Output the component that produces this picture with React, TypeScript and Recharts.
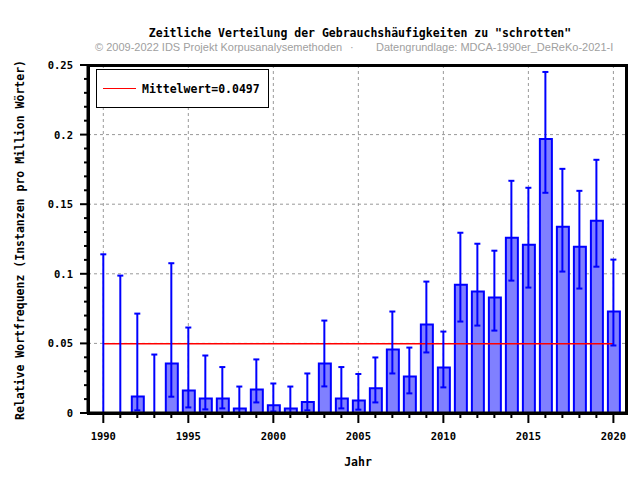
import { ComposedChart, Bar, Line, ErrorBar, XAxis, YAxis, CartesianGrid } from 'recharts';

// Jahre
const years = [
  1990, 1991, 1992, 1993, 1994, 1995, 1996, 1997, 1998, 1999, 2000, 2001, 2002, 2003, 2004, 2005,
  2006, 2007, 2008, 2009, 2010, 2011, 2012, 2013, 2014, 2015, 2016, 2017, 2018, 2019, 2020,
];

// Relative Wortfrequenz pro Jahr
const freq = [
  0, 0, 0.0119, 0, 0.0356, 0.0162, 0.0105, 0.0105, 0.0033, 0.0169, 0.0055, 0.0033, 0.0079, 0.0356,
  0.0105, 0.009, 0.0177, 0.0456, 0.0263, 0.0636, 0.0327, 0.0922, 0.0872, 0.0829, 0.1259, 0.1209,
  0.1969, 0.1338, 0.1195, 0.1381, 0.0729,
];

// Konfidenzintervall unten / oben
const lower = [
  0, 0, 0.0019, 0, 0.0117, 0.004, 0.0026, 0.0033, 0, 0.0076, 0.0011, 0, 0.0019, 0.0191, 0.0033,
  0.0024, 0.0076, 0.0284, 0.0141, 0.0435, 0.0184, 0.0657, 0.0628, 0.0592, 0.0951, 0.0901, 0.1582,
  0.1016, 0.0894, 0.1051, 0.0485,
];
const upper = [
  0.114, 0.0987, 0.0714, 0.042, 0.1076, 0.0614, 0.0413, 0.033, 0.019, 0.0385, 0.0212, 0.019, 0.0284,
  0.0664, 0.033, 0.028, 0.0399, 0.0729, 0.047, 0.0944, 0.0585, 0.1295, 0.1216, 0.1166, 0.1668,
  0.1618, 0.245, 0.1754, 0.1596, 0.1819, 0.1102,
];

const meanValue = 0.0497;

const majorYears = [1990, 1995, 2000, 2005, 2010, 2015, 2020];
const yTicks = [
  0, 0.01, 0.02, 0.03, 0.04, 0.05, 0.06, 0.07, 0.08, 0.09, 0.1, 0.11, 0.12, 0.13, 0.14, 0.15, 0.16,
  0.17, 0.18, 0.19, 0.2, 0.21, 0.22, 0.23, 0.24, 0.25,
];
const yMajor = [0, 0.05, 0.1, 0.15, 0.2, 0.25];

const data = years.map((year, i) => ({
  year,
  freq: freq[i],
  err: [freq[i] - lower[i], upper[i] - freq[i]],
  mean: meanValue,
}));

const mono = '"DejaVu Sans Mono", monospace';

const isMajorY = (v: number) => yMajor.some((m) => Math.abs(m - v) < 1e-9);

function XTick(props: any) {
  const { x, y, payload } = props;
  const major = majorYears.includes(payload.value);
  return (
    <g>
      <line x1={x} x2={x} y1={y} y2={y + (major ? 10 : 5)} stroke="#000" strokeWidth={2} />
      {major && (
        <text x={x} y={y + 27} textAnchor="middle" fontFamily={mono} fontWeight="bold" fontSize={10.5} fill="#000">
          {payload.value}
        </text>
      )}
    </g>
  );
}

function YTick(props: any) {
  const { x, y, payload } = props;
  const major = isMajorY(payload.value);
  return (
    <g>
      <line x1={x} x2={x - (major ? 8 : 4)} y1={y} y2={y} stroke="#000" strokeWidth={2} />
      {major && (
        <text x={x - 15} y={y + 4} textAnchor="end" fontFamily={mono} fontWeight="bold" fontSize={10.5} fill="#000">
          {String(payload.value)}
        </text>
      )}
    </g>
  );
}

export default function App() {
  return (
    <div style={{ position: 'absolute', left: 0, top: 0, width: 640, height: 480, background: '#fff' }}>
      <ComposedChart
        width={640}
        height={480}
        data={data}
        margin={{ top: 65, right: 13, bottom: 0, left: 0 }}
      >
        <CartesianGrid
          stroke="#999"
          strokeDasharray="3 3"
          horizontalValues={yMajor}
          verticalValues={majorYears}
        />
        <XAxis
          dataKey="year"
          type="number"
          domain={[1989.1, 2020.8]}
          ticks={years}
          interval={0}
          height={67}
          tickSize={0}
          tickMargin={0}
          tickLine={false}
          tick={XTick}
          axisLine={{ stroke: '#000', strokeWidth: 3 }}
          allowDataOverflow
        />
        <YAxis
          type="number"
          domain={[0, 0.25]}
          ticks={yTicks}
          interval={0}
          width={88}
          tickSize={0}
          tickMargin={0}
          tickLine={false}
          tick={YTick}
          axisLine={{ stroke: '#000', strokeWidth: 3 }}
          allowDataOverflow
        />
        <Line
          dataKey="mean"
          type="linear"
          stroke="#ff0000"
          strokeWidth={1.5}
          dot={false}
          isAnimationActive={false}
        />
        <Bar
          dataKey="freq"
          barSize={12}
          fill="#8080ff"
          stroke="#0000ff"
          strokeWidth={2}
          isAnimationActive={false}
        />
        {/* unsichtbare Linie nur als Träger der Fehlerbalken */}
        <Line
          dataKey="freq"
          type="linear"
          stroke="none"
          dot={false}
          activeDot={false}
          isAnimationActive={false}
        >
          <ErrorBar dataKey="err" direction="y" width={3} stroke="#0000ff" strokeWidth={2} isAnimationActive={false} />
        </Line>
      </ComposedChart>

      {/* Rahmen um die Zeichenfläche */}
      <div
        style={{
          position: 'absolute',
          left: 87,
          top: 64,
          width: 541,
          height: 351,
          border: '3px solid #000',
          boxSizing: 'border-box',
          pointerEvents: 'none',
        }}
      />

      {/* Titel */}
      <div
        style={{
          position: 'absolute',
          left: 0,
          width: 720,
          top: 26,
          textAlign: 'center',
          fontFamily: mono,
          fontWeight: 'bold',
          fontSize: 11.5,
          lineHeight: '14px',
          color: '#000',
          whiteSpace: 'nowrap',
        }}
      >
        Zeitliche Verteilung der Gebrauchshäufigkeiten zu "schrotten"
      </div>
      <div
        style={{
          position: 'absolute',
          left: 95,
          top: 40,
          fontFamily: '"Liberation Sans", Arial, sans-serif',
          fontSize: 11,
          lineHeight: '14px',
          color: '#a0a0a0',
          whiteSpace: 'nowrap',
        }}
      >
        © 2009-2022 IDS Projekt Korpusanalysemethoden
      </div>
      <div
        style={{
          position: 'absolute',
          left: 350,
          top: 40,
          fontFamily: '"Liberation Sans", Arial, sans-serif',
          fontSize: 11,
          lineHeight: '14px',
          color: '#a0a0a0',
        }}
      >
        ·
      </div>
      <div
        style={{
          position: 'absolute',
          left: 376,
          top: 40,
          fontFamily: '"Liberation Sans", Arial, sans-serif',
          fontSize: 11,
          lineHeight: '14px',
          color: '#a0a0a0',
          whiteSpace: 'nowrap',
        }}
      >
        Datengrundlage: MDCA-1990er_DeReKo-2021-I
      </div>

      {/* Legende */}
      <div
        style={{
          position: 'absolute',
          left: 96,
          top: 69,
          width: 173,
          height: 39,
          border: '1px solid #000',
          boxSizing: 'border-box',
          background: '#fff',
        }}
      >
        <div style={{ position: 'absolute', left: 6, top: 18, width: 33, height: 1, background: '#ff0000' }} />
        <div
          style={{
            position: 'absolute',
            left: 45,
            top: 12,
            fontFamily: mono,
            fontWeight: 'bold',
            fontSize: 11.5,
            lineHeight: '14px',
            whiteSpace: 'nowrap',
          }}
        >
          Mittelwert=0.0497
        </div>
      </div>

      {/* Achsentitel */}
      <div
        style={{
          position: 'absolute',
          left: 20,
          top: 240,
          transform: 'translate(-50%, -50%) rotate(-90deg)',
          fontFamily: mono,
          fontWeight: 'bold',
          fontSize: 11.5,
          lineHeight: '14px',
          whiteSpace: 'nowrap',
        }}
      >
        Relative Wortfrequenz (Instanzen pro Million Wörter)
      </div>
      <div
        style={{
          position: 'absolute',
          left: 358,
          top: 462,
          transform: 'translate(-50%, -50%)',
          fontFamily: mono,
          fontWeight: 'bold',
          fontSize: 11.5,
          lineHeight: '14px',
          whiteSpace: 'nowrap',
        }}
      >
        Jahr
      </div>
    </div>
  );
}
